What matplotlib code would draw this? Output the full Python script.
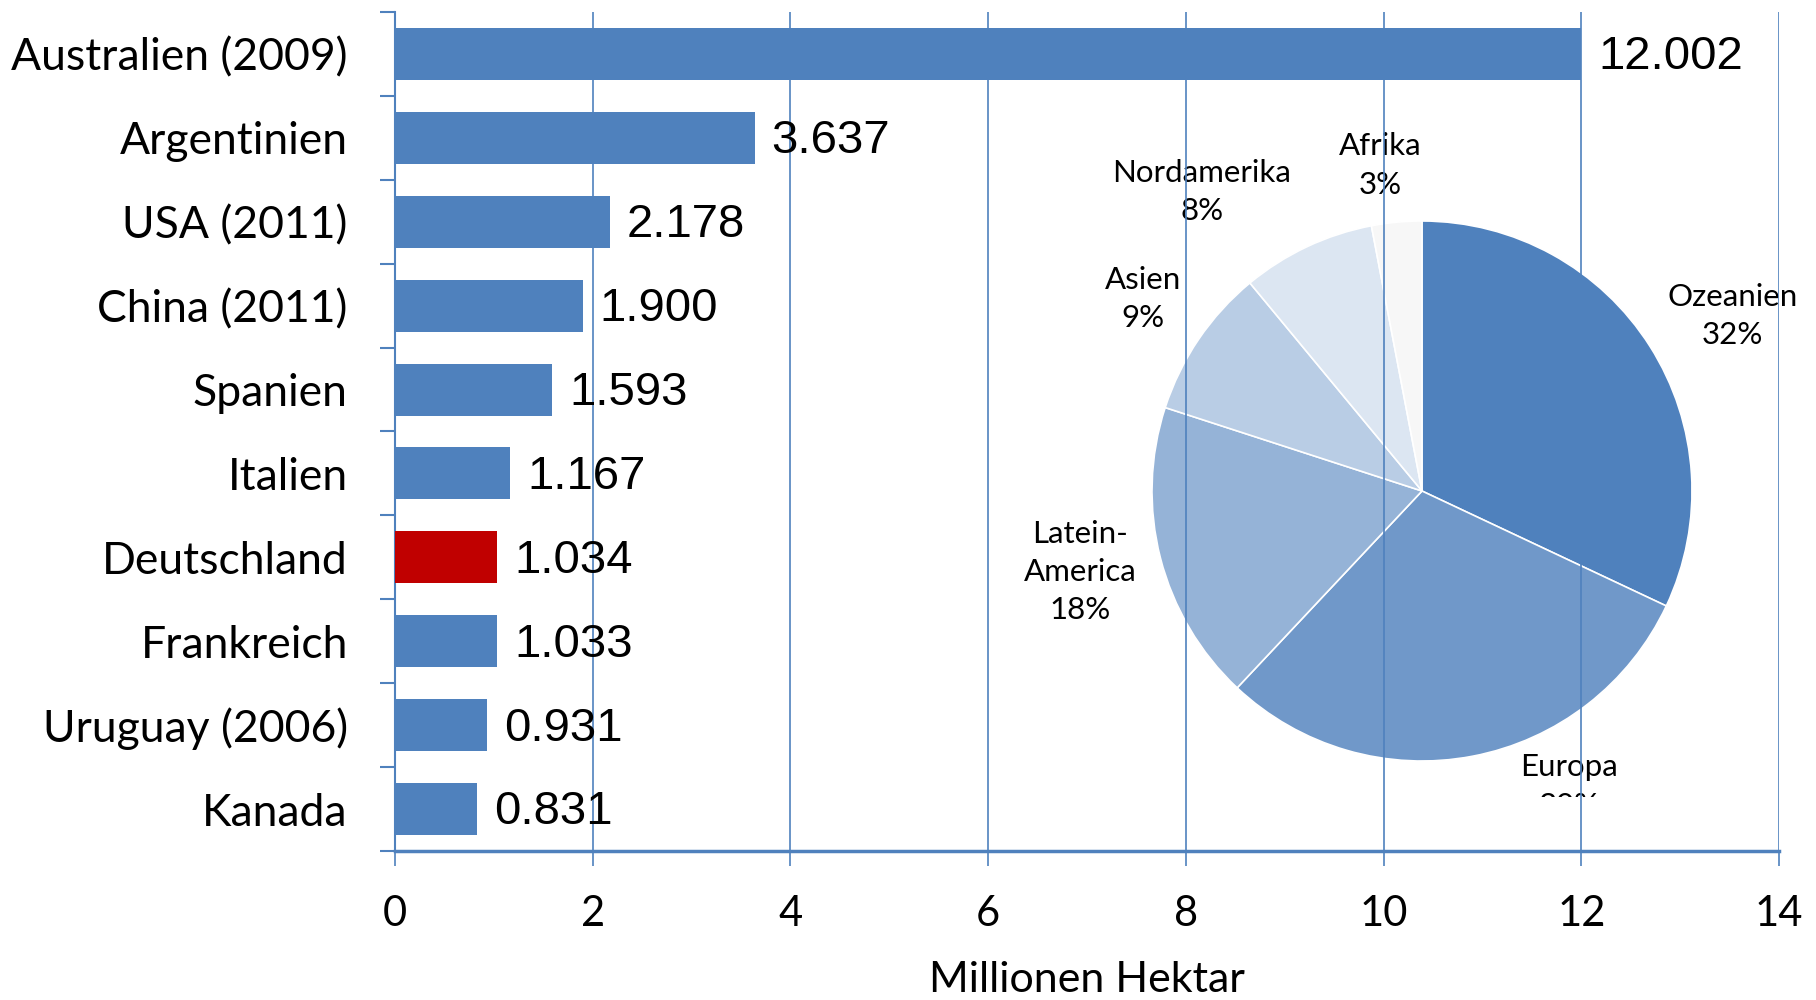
import numpy as np
import matplotlib
matplotlib.use("Agg")
import matplotlib.pyplot as plt

# Daten: Oekolandbau-Flaeche nach Laendern (Mio. ha)
countries = ["Australien (2009)", "Argentinien", "USA (2011)", "China (2011)", "Spanien",
             "Italien", "Deutschland", "Frankreich", "Uruguay (2006)", "Kanada"]
hectares = [12.002, 3.637, 2.178, 1.900, 1.593, 1.167, 1.034, 1.033, 0.931, 0.831]

# Anteile nach Kontinent (Kreisdiagramm)
regions = ["Ozeanien", "Europa", "Latein-\nAmerica", "Asien", "Nordamerika", "Afrika"]
shares = [32, 30, 18, 9, 8, 3]

blue = "#4F81BD"
red = "#C00000"
pie_colors = ["#4F81BD", "#7098C9", "#95B3D7", "#B9CDE5", "#DCE6F2", "#F7F7F7"]
# label positions around the pie (radius = 1)
label_pos = [(1.15, 0.648), (0.545, -1.094), (-1.266, -0.30), (-1.034, 0.712), (-0.815, 1.107), (-0.155, 1.206)]

font_cat = "Lato"
font_val = "Liberation Sans"

fig = plt.figure(figsize=(18.16, 10), dpi=100)
ax = fig.add_axes([395 / 1816, 0.149, (1779 - 395) / 1816, 0.839])

y = np.arange(len(countries))
colors = [red if c == "Deutschland" else blue for c in countries]
ax.barh(y, hectares, height=0.62, color=colors, zorder=3)
for yi, v in zip(y, hectares):
    ax.text(v + 0.17, yi + 0.04, f"{v:.3f}", va="center", ha="left",
            fontsize=34, family=font_val, zorder=4)

ax.set_xlim(0, 14)
ax.set_ylim(len(countries) - 0.5, -0.5)
ax.set_xticks(np.arange(0, 15, 2))
ax.set_yticks(y)
ax.set_yticklabels(countries, fontsize=32, family=font_cat)
ax.set_yticks(np.arange(-0.5, len(countries)), minor=True)
ax.tick_params(axis="y", which="major", length=0, pad=34)
ax.tick_params(axis="y", which="minor", length=11, width=1.5, color=blue, direction="out")
ax.tick_params(axis="x", length=11, width=1.2, color=blue, direction="out", pad=21, labelsize=30)
for lab in ax.get_xticklabels():
    lab.set_family(font_cat)
ax.set_xlabel("Millionen Hektar", fontsize=31, family=font_cat, labelpad=20)

ax.xaxis.grid(True, color=blue, linewidth=1.2, zorder=1)
ax.set_axisbelow(False)
ax.spines["top"].set_visible(False)
ax.spines["right"].set_visible(False)
ax.spines["left"].set_color(blue)
ax.spines["bottom"].set_color(blue)
ax.spines["left"].set_linewidth(1.5)
ax.spines["bottom"].set_linewidth(2.5)
ax.patch.set_visible(False)
ax.set_zorder(2)

# Kreisdiagramm als Einschub
pax = fig.add_axes([1000 / 1816, 0.203, 816 / 1816, 0.677])
pax.set_zorder(1)
pax.pie(shares, colors=pie_colors, startangle=90, counterclock=False,
        wedgeprops=dict(edgecolor="white", linewidth=1.2))
pax.set_aspect("auto")
pax.set_xlim(-422 / 270, 394 / 270)
pax.set_ylim(-306 / 270, 371 / 270)
pax.axis("off")
for name, s, (px, py) in zip(regions, shares, label_pos):
    pax.text(px, py, f"{name}\n{s}%", ha="center", va="center", fontsize=22.5,
             family=font_cat, linespacing=1.45, clip_on=True)

fig.savefig("out.png", dpi=100)
